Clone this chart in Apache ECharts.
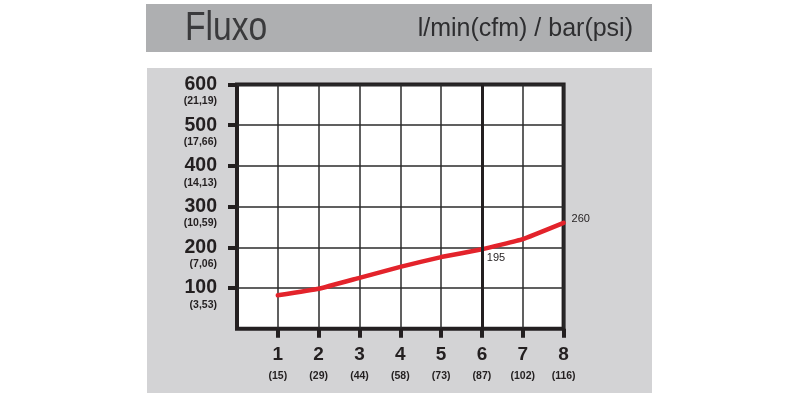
<!DOCTYPE html>
<html>
<head>
<meta charset="utf-8">
<script src="https://cdn.jsdelivr.net/npm/echarts@6/dist/echarts.min.js"></script>
<style>
html,body{margin:0;padding:0;background:#fff;}
#c{width:800px;height:400px;}
</style>
</head>
<body>
<div id="c"></div>
<script>
// Data
var titleText = 'Fluxo';
var unitText = 'l/min(cfm) / bar(psi)';
var pressureBar = [1, 2, 3, 4, 5, 6, 7, 8];
var pressurePsi = ['(15)', '(29)', '(44)', '(58)', '(73)', '(87)', '(102)', '(116)'];
var flowTicks = [100, 200, 300, 400, 500, 600];
var flowCfm = ['(3,53)', '(7,06)', '(10,59)', '(14,13)', '(17,66)', '(21,19)'];
var flowValues = [82, 98, 125, 152, 176, 195, 220, 260];
var annotated = [6, 8];
var highlightX = 6;

var FONT = '"Liberation Sans", Arial, sans-serif';
var ink = '#231f20';

var lineData = pressureBar.map(function (x, i) {
  var item = { value: [x, flowValues[i]] };
  if (annotated.indexOf(x) >= 0) {
    var isLast = i === pressureBar.length - 1;
    item.label = {
      show: true,
      formatter: String(flowValues[i]),
      position: isLast ? 'right' : 'bottom',
      distance: isLast ? 8 : 3,
      offset: isLast ? [0, -4] : [14, 0],
      fontFamily: FONT,
      fontSize: 11,
      color: ink
    };
  }
  return item;
});

var yBase = { type: 'value', min: 0, max: 600, interval: 100, position: 'left' };

var chart = echarts.init(document.getElementById('c'));
chart.setOption({
  animation: false,
  backgroundColor: '#ffffff',
  graphic: [
    { type: 'rect', z: -10, shape: { x: 146, y: 4, width: 506, height: 48 }, style: { fill: '#aeafb1' } },
    { type: 'rect', z: -10, shape: { x: 147, y: 68, width: 505, height: 325 }, style: { fill: '#d3d3d5' } },
    { type: 'text', x: 185, y: 28.5, scaleX: 0.82, style: { text: titleText, font: '41px "Liberation Sans Narrow", "Liberation Sans", sans-serif', fill: '#3a3a3c', verticalAlign: 'middle', align: 'left' } },
    { type: 'text', x: 633, y: 29.5, style: { text: unitText, font: '25px "Liberation Sans", sans-serif', fill: '#2e2e30', verticalAlign: 'middle', align: 'right' } }
  ],
  grid: {
    left: 237, right: 236.4, top: 84.5, bottom: 71.3,
    show: true, backgroundColor: '#ffffff', borderColor: ink, borderWidth: 4
  },
  xAxis: {
    type: 'value', min: 0, max: 8, interval: 1,
    axisLine: { show: false },
    axisTick: { show: true, customValues: pressureBar, length: 9, inside: false, lineStyle: { color: ink, width: 4 } },
    axisLabel: {
      show: true, customValues: pressureBar, margin: 15, hideOverlap: false,
      formatter: function (v) {
        var i = pressureBar.indexOf(v);
        return i < 0 ? '' : '{a|' + v + '}\n{b|' + pressurePsi[i] + '}';
      },
      rich: {
        a: { fontFamily: FONT, fontSize: 19, fontWeight: 'bold', color: ink, lineHeight: 22 },
        b: { fontFamily: FONT, fontSize: 10.5, fontWeight: 'bold', color: ink, lineHeight: 20 }
      }
    },
    splitLine: { show: true, lineStyle: { color: '#2b2b2b', width: 1.5 } }
  },
  yAxis: [
    Object.assign({}, yBase, {
      axisLine: { show: false },
      axisTick: { show: true, customValues: flowTicks, length: 9, inside: false, lineStyle: { color: ink, width: 4 } },
      axisLabel: {
        show: true, customValues: flowTicks, margin: 20, align: 'right', verticalAlign: 'middle',
        fontFamily: FONT, fontSize: 19.5, fontWeight: 'bold', color: ink, lineHeight: 20,
        formatter: function (v) { return flowTicks.indexOf(v) < 0 ? '' : String(v); }
      },
      splitLine: { show: true, lineStyle: { color: '#2b2b2b', width: 1.5 } }
    }),
    Object.assign({}, yBase, {
      axisLine: { show: false },
      axisTick: { show: false },
      splitLine: { show: false },
      axisLabel: {
        show: true, customValues: flowTicks, margin: 20, align: 'right', verticalAlign: 'top',
        fontFamily: FONT, fontSize: 10.5, fontWeight: 'bold', color: ink, lineHeight: 14,
        padding: [10, 0, 0, 0],
        formatter: function (v) {
          var i = flowTicks.indexOf(v);
          return i < 0 ? '' : flowCfm[i];
        }
      }
    })
  ],
  series: [
    {
      type: 'line', z: 1, data: [], silent: true,
      markLine: {
        symbol: 'none', silent: true, animation: false,
        label: { show: false },
        lineStyle: { color: ink, width: 3, type: 'solid' },
        data: [{ xAxis: highlightX }]
      }
    },
    {
      type: 'line', z: 3,
      data: lineData,
      smooth: 0.1,
      showSymbol: true, symbol: 'circle', symbolSize: 0,
      itemStyle: { color: '#e3232b' },
      lineStyle: { color: '#e3232b', width: 4.5, cap: 'round', join: 'round' },
      label: { show: false }
    }
  ]
});
</script>
</body>
</html>
